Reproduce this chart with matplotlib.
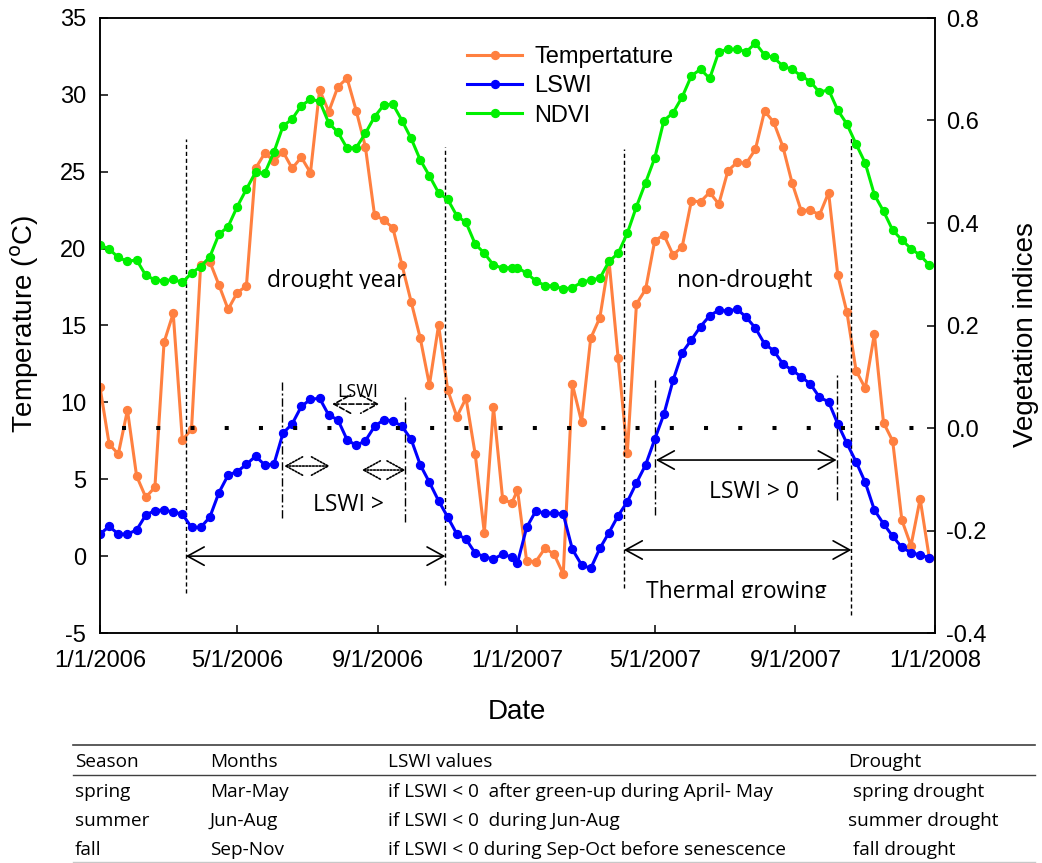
import datetime as dt
import numpy as np
import matplotlib
matplotlib.use('Agg')
import matplotlib.pyplot as plt
import matplotlib.dates as mdates
from matplotlib.lines import Line2D
from matplotlib.ticker import FuncFormatter, MultipleLocator
from matplotlib.transforms import Bbox, TransformedBbox

plt.rcParams['font.family'] = ['Liberation Sans', 'DejaVu Sans']
plt.rcParams['axes.unicode_minus'] = False

# MODIS 8-day composites, 46 per year
dates_2006 = np.datetime64('2006-01-01') + np.arange(46) * 8
dates_2007 = np.datetime64('2007-01-01') + np.arange(46) * 8
dates = list(np.concatenate([dates_2006, dates_2007]).astype('datetime64[D]').astype(object))

temperature = [
    10.98, 7.29, 6.64, 9.50, 5.21, 3.83, 4.48, 13.91, 15.79, 7.55, 8.25, 18.94,
    19.15, 17.63, 16.05, 17.14, 17.57, 25.22, 26.20, 25.72, 26.30, 25.22, 25.94, 24.94,
    30.32, 28.91, 30.53, 31.08, 28.97, 26.63, 22.19, 21.86, 21.36, 18.94, 16.55, 14.17,
    11.13, 15.03, 10.80, 9.07, 10.27, 6.64, 1.52, 9.68, 3.72, 3.44,
    4.30, -0.32, -0.36, 0.51, 0.12, -1.16, 11.17, 8.74, 14.17, 15.51, 19.21, 12.87,
    6.69, 16.40, 17.35, 20.52, 20.89, 19.59, 20.13, 23.10, 23.05, 23.66, 22.90, 25.07,
    25.61, 25.55, 26.46, 28.95, 28.22, 26.63, 24.29, 22.47, 22.51, 22.19, 23.64, 18.28,
    15.86, 12.06, 10.92, 14.45, 8.68, 7.49, 2.35, 0.68, 3.72, -0.11,
]

lswi = [
    -0.207, -0.192, -0.207, -0.207, -0.199, -0.170, -0.161, -0.160, -0.164, -0.168,
    -0.194, -0.194, -0.174, -0.126, -0.092, -0.085, -0.071, -0.055, -0.072, -0.071,
    -0.010, 0.008, 0.042, 0.056, 0.058, 0.025, 0.016, -0.023, -0.034, -0.025,
    0.003, 0.016, 0.014, 0.003, -0.022, -0.072, -0.106, -0.142, -0.174, -0.207,
    -0.217, -0.244, -0.251, -0.256, -0.246, -0.252,
    -0.263, -0.194, -0.162, -0.166, -0.166, -0.168, -0.237, -0.267, -0.274, -0.235,
    -0.204, -0.171, -0.144, -0.107, -0.072, -0.022, 0.027, 0.093, 0.147, 0.172,
    0.198, 0.219, 0.230, 0.228, 0.232, 0.216, 0.195, 0.164, 0.151, 0.125,
    0.113, 0.100, 0.086, 0.060, 0.051, 0.008, -0.030, -0.066, -0.106, -0.160,
    -0.187, -0.211, -0.233, -0.243, -0.248, -0.253,
]

ndvi = [
    0.357, 0.349, 0.333, 0.325, 0.328, 0.298, 0.289, 0.287, 0.290, 0.284,
    0.302, 0.315, 0.334, 0.378, 0.393, 0.432, 0.466, 0.499, 0.497, 0.538,
    0.589, 0.603, 0.629, 0.641, 0.638, 0.595, 0.577, 0.546, 0.547, 0.575,
    0.607, 0.630, 0.632, 0.600, 0.565, 0.523, 0.492, 0.459, 0.446, 0.414,
    0.401, 0.359, 0.341, 0.318, 0.312, 0.313,
    0.313, 0.302, 0.287, 0.278, 0.277, 0.271, 0.274, 0.284, 0.289, 0.292,
    0.325, 0.341, 0.380, 0.432, 0.479, 0.527, 0.600, 0.615, 0.646, 0.687,
    0.700, 0.682, 0.734, 0.739, 0.739, 0.734, 0.751, 0.728, 0.723, 0.706,
    0.700, 0.687, 0.676, 0.655, 0.660, 0.620, 0.593, 0.554, 0.517, 0.455,
    0.423, 0.386, 0.367, 0.350, 0.337, 0.318,
]

table_header = ['Season', 'Months', 'LSWI values', 'Drought']
table_rows = [
    ['spring', 'Mar-May', 'if LSWI < 0  after green-up during April- May', ' spring drought'],
    ['summer', 'Jun-Aug', 'if LSWI < 0  during Jun-Aug', 'summer drought'],
    ['fall', 'Sep-Nov', 'if LSWI < 0 during Sep-Oct before senescence', ' fall drought'],
]

orange = '#FF8040'
blue = '#0000FF'
green = '#00F000'
note_font = 'Open Sans'

W, H = 1042, 863
fig = plt.figure(figsize=(W / 100, H / 100), dpi=100)


def fx(px):
    return px / W


def fy(py):
    return 1 - py / H


ax1 = fig.add_axes([fx(100), fy(633), fx(835), 615 / H])
ax2 = ax1.twinx()

l1, = ax1.plot(dates, temperature, color=orange, lw=2.2, marker='o', ms=5.7, label='Tempertature')
l2, = ax2.plot(dates, lswi, color=blue, lw=2.2, marker='o', ms=5.7, label='LSWI')
l3, = ax2.plot(dates, ndvi, color=green, lw=2.2, marker='o', ms=5.7, label='NDVI')

# LSWI = 0 reference
ax2.axhline(0, xmin=0.026, xmax=1, color='k', lw=2.9, linestyle=(0, (1, 7.5)))

ax1.set_xlim(dt.date(2006, 1, 1), dt.date(2008, 1, 1))
ax1.set_ylim(-5, 35)
ax2.set_ylim(-0.4, 0.8)
ax1.yaxis.set_major_locator(MultipleLocator(5))
ax2.yaxis.set_major_locator(MultipleLocator(0.2))
ax2.yaxis.set_major_formatter(FuncFormatter(lambda v, p: f'{v:.1f}'))
ax1.xaxis.set_major_locator(mdates.MonthLocator(bymonth=[1, 5, 9]))
ax1.xaxis.set_major_formatter(FuncFormatter(
    lambda v, p: '{0.month}/{0.day}/{0.year}'.format(mdates.num2date(v))))

ax1.tick_params(axis='both', direction='in', length=6, width=1.1, labelsize=17)
ax1.tick_params(axis='x', pad=12)
ax1.tick_params(axis='y', pad=10)
ax2.tick_params(axis='y', direction='in', length=6, width=1.1, labelsize=17, pad=8)
for ax in (ax1, ax2):
    for s in ax.spines.values():
        s.set_linewidth(1.1)

fig.text(fx(25), fy(324), 'Temperature ($^{\\rm o}$C)', rotation=90, fontsize=20, ha='center', va='center')
fig.text(fx(1026), fy(335), 'Vegetation indices', rotation=90, fontsize=20, ha='center', va='center')
fig.text(fx(517), fy(712), 'Date', fontsize=20, ha='center', va='center')

ax2.legend(handles=[l1, l2, l3], loc='upper left', bbox_to_anchor=(fx(467), fy(46)),
           bbox_transform=fig.transFigure, frameon=False, fontsize=17, numpoints=1,
           handlelength=2.35, handletextpad=0.5, labelspacing=0.31, borderpad=0, borderaxespad=0)

# period boundaries
big_lines = [(dt.date(2006, 3, 17), -2.4, 27.1), (dt.date(2006, 10, 30), -1.9, 26.6),
             (dt.date(2007, 4, 4), -2.1, 26.5), (dt.date(2007, 10, 20), -3.8, 27.2)]
for d, y0, y1 in big_lines:
    ax1.plot([d, d], [y0, y1], color='k', lw=1.0, linestyle=(0, (3, 2)))
small_lines = [(dt.date(2006, 6, 9), 2.5, 11.3), (dt.date(2006, 9, 25), 2.2, 10.35),
               (dt.date(2007, 5, 1), 2.7, 11.45), (dt.date(2007, 10, 7), 3.65, 11.9)]
for d, y0, y1 in small_lines:
    ax1.plot([d, d], [y0, y1], color='k', lw=1.0, linestyle=(0, (6, 2, 1.5, 2)))


def span_arrow(d0, d1, y, ls='-'):
    ax1.annotate('', xy=(d1, y), xytext=(d0, y),
                 arrowprops=dict(arrowstyle='<->,head_length=0.6,head_width=0.33', color='k',
                                 lw=1.2, linestyle=ls, shrinkA=0, shrinkB=0, mutation_scale=20))


span_arrow(dt.date(2006, 3, 17), dt.date(2006, 10, 30), 0.0)
span_arrow(dt.date(2007, 4, 4), dt.date(2007, 10, 20), 0.4)
span_arrow(dt.date(2007, 5, 2), dt.date(2007, 10, 7), 6.25)
span_arrow(dt.date(2006, 6, 11), dt.date(2006, 7, 21), 5.86, ls=(0, (1, 1)))
span_arrow(dt.date(2006, 8, 18), dt.date(2006, 9, 25), 5.60, ls=(0, (1, 1)))
span_arrow(dt.date(2006, 7, 23), dt.date(2006, 9, 2), 9.89, ls=(0, (3, 1.5)))


def note(d, y, s, size=16.5, clip_py=None, ha='center', va='center'):
    t = ax1.text(d, y, s, fontsize=size, family=note_font, ha=ha, va=va)
    if clip_py is not None:
        # cut the label off at a fixed pixel row
        box = Bbox.from_extents(0, fy(clip_py), 1, 1)
        t.set_clip_box(TransformedBbox(box, fig.transFigure))
        t.set_clip_on(True)
    return t


note(dt.date(2006, 7, 27), 17.5, 'drought year', va='baseline', clip_py=289)
note(dt.date(2007, 7, 19), 17.5, 'non-drought', va='baseline', clip_py=289)
note(dt.date(2007, 7, 11), -2.72, 'Thermal growing', va='baseline', clip_py=598)
note(dt.date(2007, 7, 27), 4.17, 'LSWI > 0')
note(dt.date(2006, 7, 6), 3.33, 'LSWI >', ha='left')
note(dt.date(2006, 8, 14), 10.67, 'LSWI', size=13)

# drought criteria table under the chart
rule_dark = '#404040'
fig.add_artist(Line2D([fx(73), fx(1035)], [fy(745), fy(745)], color=rule_dark, lw=1.2))
fig.add_artist(Line2D([fx(73), fx(1035)], [fy(775), fy(775)], color=rule_dark, lw=1.0))
fig.add_artist(Line2D([fx(73), fx(1035)], [fy(862), fy(862)], color='#c8c8c8', lw=1.0))
col_x = [75, 210, 388, 848]
for cx, s in zip(col_x, table_header):
    fig.text(fx(cx), fy(762), s, fontsize=13.7, family=note_font, ha='left', va='center')
for ry, row in zip([792, 821, 850], table_rows):
    for cx, s in zip(col_x, row):
        fig.text(fx(cx), fy(ry), s, fontsize=13.7, family=note_font, ha='left', va='center')

fig.savefig('out.png', dpi=100)
